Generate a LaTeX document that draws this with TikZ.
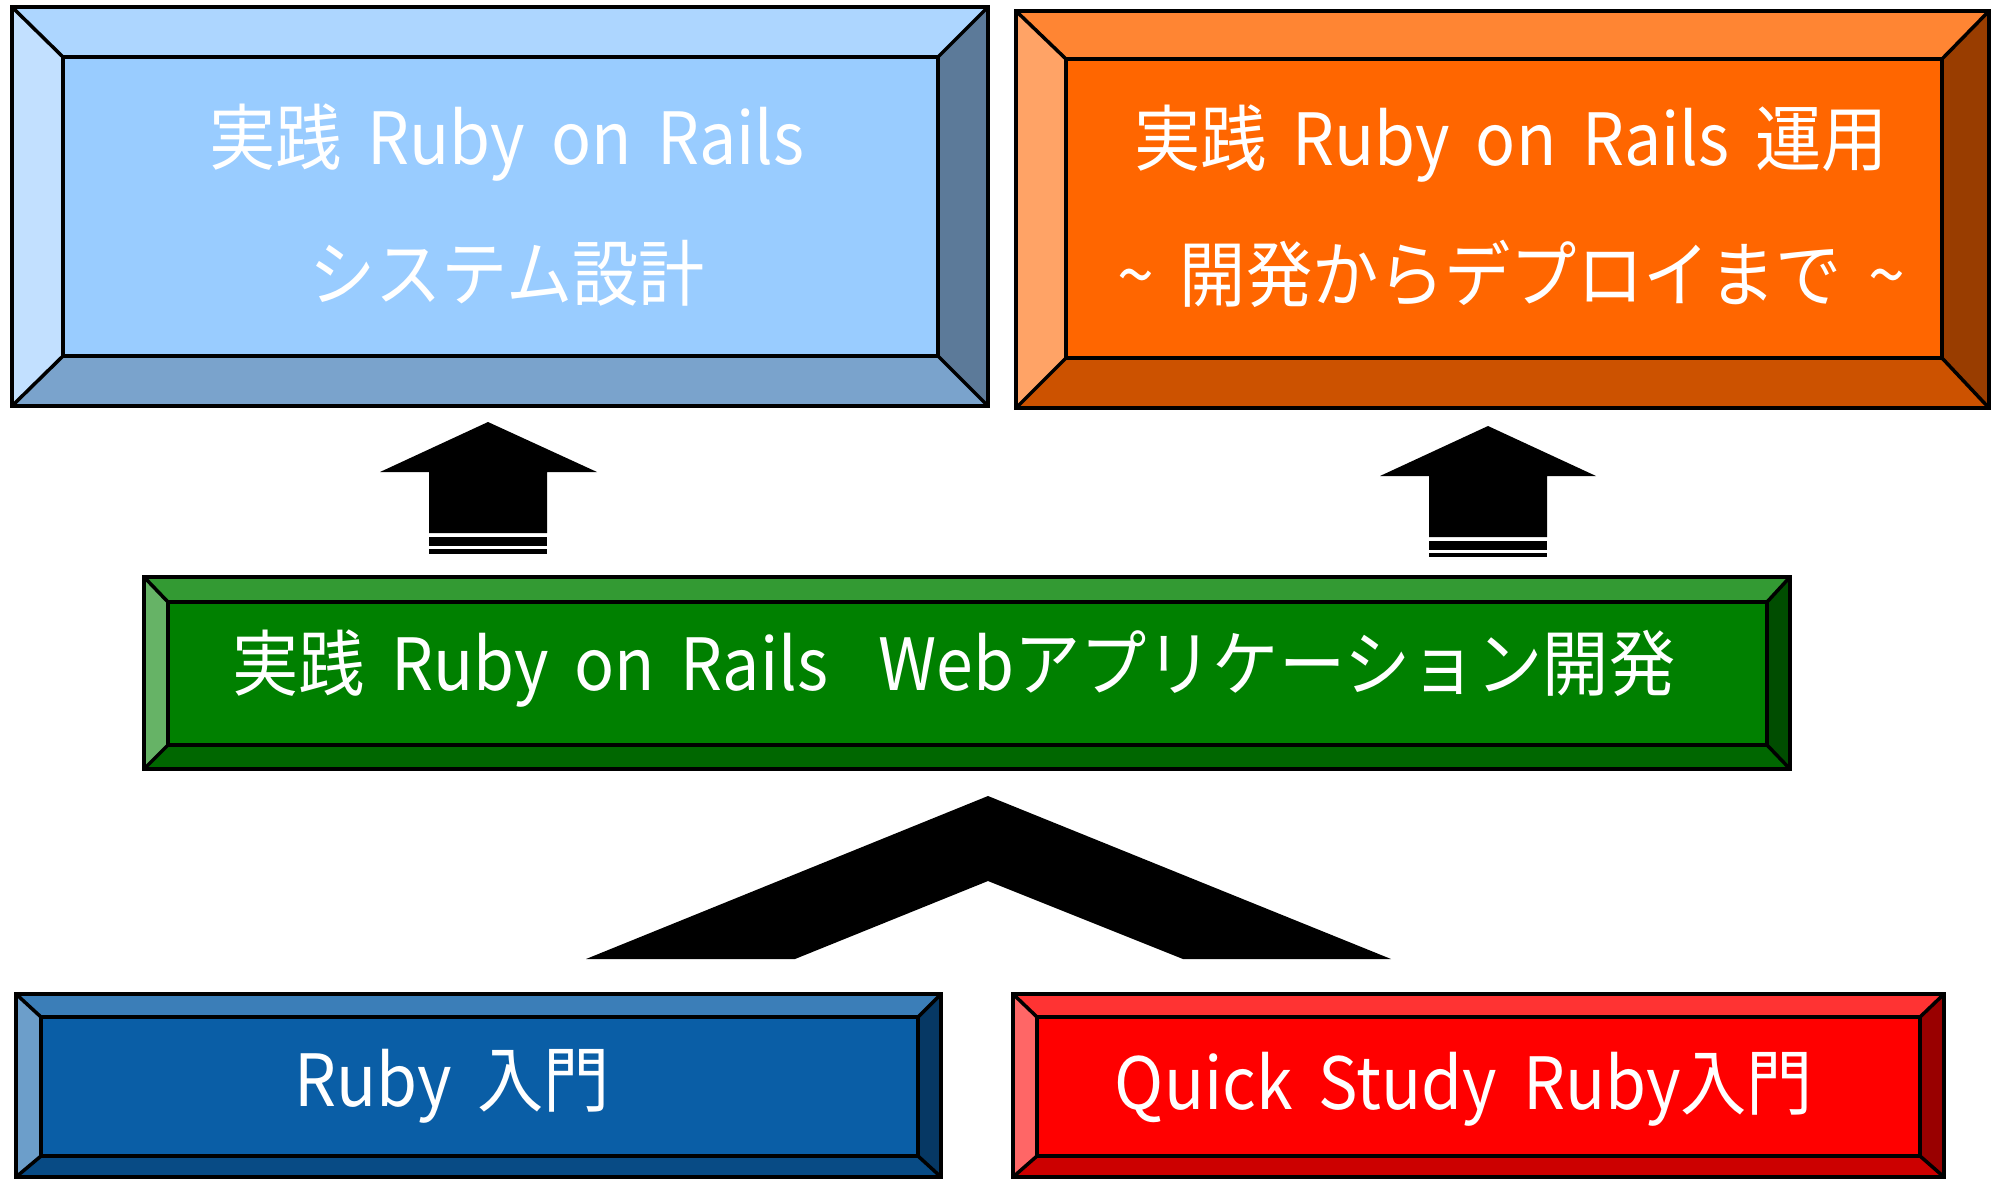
\documentclass[tikz,border=0pt]{standalone}
\usepackage{fontspec}
\setmainfont[FakeStretch=0.92]{Noto Sans CJK JP}
\usetikzlibrary{fit}

\definecolor{skyface}{HTML}{99CCFF}
\definecolor{orangeface}{HTML}{FF6600}
\definecolor{greenface}{HTML}{008000}
\definecolor{blueface}{HTML}{0A5EA6}
\definecolor{redface}{HTML}{FF0000}

\tikzset{
  bevelline/.style={line width=3.5pt, line join=miter, black},
  label text/.style={text=white, align=center, inner sep=0pt,
    font={\fontsize{72}{136}\selectfont\spaceskip=0.36em plus 0.05em}},
  block arrow/.style={fill=black},
}

% Bevelled panel: #1 name, #2 outer NW, #3 outer SE, #4 inner NW, #5 inner SE, #6 face colour
\newcommand\bevelbox[6]{%
  \coordinate (#1-a) at (#2);
  \coordinate (#1-b) at (#3);
  \coordinate (#1-c) at (#4);
  \coordinate (#1-d) at (#5);
  % top, left, right and bottom faces
  \fill[#6!80!white] (#1-a) -- (#1-a -| #1-b) -- (#1-c -| #1-d) -- (#1-c) -- cycle;
  \fill[#6!60!white] (#1-a) -- (#1-c) -- (#1-c |- #1-d) -- (#1-a |- #1-b) -- cycle;
  \fill[#6!60!black] (#1-a -| #1-b) -- (#1-b) -- (#1-d) -- (#1-c -| #1-d) -- cycle;
  \fill[#6!80!black] (#1-a |- #1-b) -- (#1-c |- #1-d) -- (#1-d) -- (#1-b) -- cycle;
  \draw[bevelline] (#1-a) rectangle (#1-b);
  \draw[bevelline] (#1-a) -- (#1-c)
                   (#1-a -| #1-b) -- (#1-c -| #1-d)
                   (#1-a |- #1-b) -- (#1-c |- #1-d)
                   (#1-b) -- (#1-d);
  \node[fit=(#1-c)(#1-d), inner sep=0pt, draw, bevelline, fill=#6] (#1) {};
}

\begin{document}
\begin{tikzpicture}[x=1pt, y=-1pt]
\useasboundingbox (0,0) rectangle (1991,1179);

% upper panels
\bevelbox{design}{12,7}{988,406}{63,57}{938,356}{skyface}
\node[label text] (designtext) at (507,205) {実践 Ruby on Rails\\システム設計};

\bevelbox{ops}{1016,11}{1989,408}{1066,59}{1942,358}{orangeface}
\node[label text] (opstext) at (1511,206)
  {実践 Ruby on Rails 運用\\\textasciitilde\ 開発からデプロイまで\ \textasciitilde};

% middle panel
\bevelbox{web}{144,577}{1790,769}{168,602}{1767,745}{greenface}
\node[label text] (webtext) at (954,669)
  {実践 Ruby on Rails\hspace{0.7em}Webアプリケーション開発};

% lower panels
\bevelbox{intro}{16,994}{941,1177}{41,1017}{918,1156}{blueface}
\node[label text] (introtext) at (452,1086) {Ruby 入門};

\bevelbox{quick}{1013,994}{1944,1177}{1037,1017}{1920,1156}{redface}
\node[label text] (quicktext) at (1464,1089) {Quick Study Ruby入門};

% striped block arrows from the middle panel up to the upper panels
\fill[block arrow] (380,472) -- (488,422) -- (597,472) -- (547,472)
  -- (547,533) -- (429,533) -- (429,472) -- cycle;
\fill[block arrow] (429,537) rectangle (547,546);
\fill[block arrow] (429,549) rectangle (547,554);

\fill[block arrow] (1380,476) -- (1488,426) -- (1596,476) -- (1547,476)
  -- (1547,537) -- (1429,537) -- (1429,476) -- cycle;
\fill[block arrow] (1429,541) rectangle (1547,550);
\fill[block arrow] (1429,553) rectangle (1547,557);

% chevron joining the two lower panels into the middle one
\fill[block arrow] (586,959) -- (988,796) -- (1391,959) -- (1183,959)
  -- (988,881) -- (795,959) -- cycle;
\end{tikzpicture}
\end{document}
